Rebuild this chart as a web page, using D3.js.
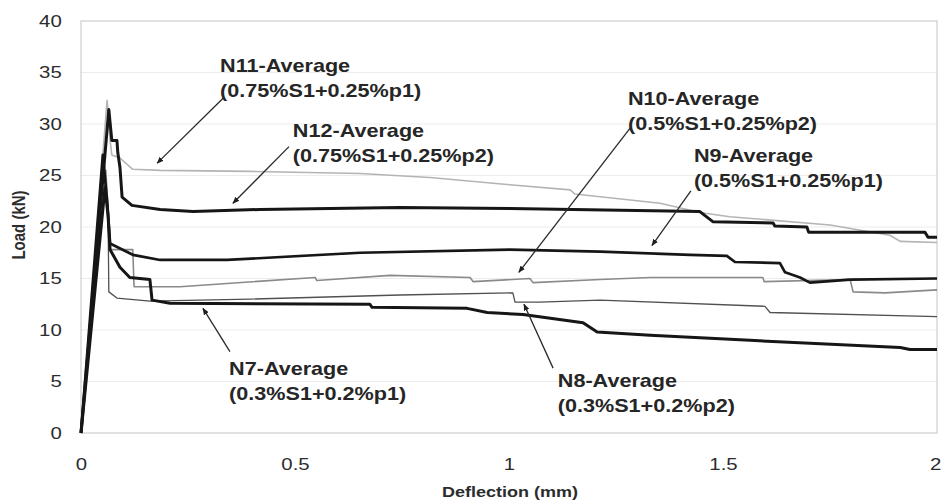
<!DOCTYPE html>
<html>
<head>
<meta charset="utf-8">
<script src="https://cdn.jsdelivr.net/npm/d3@7"></script>
<style>
  body { margin: 0; background: #fff; }
  svg { display: block; font-family: "Liberation Sans", Arial, sans-serif; }
</style>
</head>
<body>
<div id="chart"></div>
<script>
// data: [deflection (mm), load (kN)]
var n7 = [[0,0],[0.056,23.8],[0.063,21.2],[0.068,17.8],[0.091,16.1],[0.114,15.1],[0.161,14.9],[0.166,12.9],[0.208,12.6],
          [0.675,12.5],[0.68,12.2],[0.902,12.1],[0.949,11.7],[1.033,11.5],[1.173,10.7],[1.206,9.8],[1.33,9.5],[1.563,9.0],
          [1.914,8.3],[1.937,8.1],[2.0,8.1]];
var n8 = [[0,0],[0.054,23.1],[0.063,22.1],[0.065,13.7],[0.084,13.1],[0.161,12.8],[0.395,13.0],[0.745,13.4],[1.009,13.6],
          [1.014,12.7],[1.072,12.7],[1.213,12.9],[1.598,12.3],[1.61,11.7],[2.0,11.3]];
var n9 = [[0,0],[0.051,27.0],[0.061,22.6],[0.068,18.4],[0.121,17.3],[0.185,16.8],[0.341,16.8],[0.652,17.5],[1.002,17.8],
          [1.213,17.6],[1.423,17.3],[1.509,17.2],[1.528,16.6],[1.633,16.5],[1.645,15.6],[1.68,15.1],[1.703,14.6],
          [1.797,14.9],[2.0,15.0]];
var n10 = [[0,0],[0.058,25.5],[0.068,17.8],[0.121,17.8],[0.124,14.2],[0.231,14.2],[0.547,15.1],[0.551,14.8],[0.722,15.3],
           [0.909,15.1],[0.916,14.7],[1.049,15.0],[1.056,14.6],[1.213,14.9],[1.33,15.1],[1.516,15.1],[1.593,15.1],
           [1.596,14.7],[1.797,14.9],[1.804,13.7],[1.879,13.6],[2.0,13.9]];
var n11 = [[0,0],[0.061,32.3],[0.068,28.4],[0.072,27.0],[0.091,26.7],[0.121,25.6],[0.185,25.5],[0.395,25.4],[0.652,25.2],
           [0.815,24.8],[1.002,24.1],[1.143,23.6],[1.154,23.2],[1.353,22.3],[1.446,21.4],[1.516,21.0],[1.75,20.2],
           [1.89,19.2],[1.914,18.6],[2.0,18.5]];
var n12 = [[0,0],[0.065,31.4],[0.072,28.4],[0.084,28.4],[0.086,27.2],[0.091,25.8],[0.096,22.9],[0.119,22.1],[0.185,21.7],
           [0.262,21.5],[0.418,21.7],[0.745,21.9],[1.002,21.8],[1.446,21.5],[1.458,21.1],[1.477,20.5],[1.617,20.4],
           [1.621,20.1],[1.696,20.0],[1.70,19.5],[1.972,19.5],[1.979,19.0],[2.0,19.0]];

var seriesNames = ['N11', 'N10', 'N8', 'N9', 'N7', 'N12'];
var seriesData = [n11, n10, n8, n9, n7, n12];
var labelTitles = ['N11-Average', 'N10-Average', 'N8-Average', 'N9-Average', 'N7-Average', 'N12-Average'];
var labelMixes = ['(0.75%S1+0.25%p1)', '(0.5%S1+0.25%p2)', '(0.3%S1+0.2%p2)', '(0.5%S1+0.25%p1)', '(0.3%S1+0.2%p1)', '(0.75%S1+0.25%p2)'];

var xTicks = [0, 0.5, 1, 1.5, 2];
var xTickLabels = ['0', '0.5', '1', '1.5', '2'];
var yTicks = [0, 5, 10, 15, 20, 25, 30, 35, 40];

// layout
var W = 946, H = 502;
var stretch = 1.2; // the picture's text is wide
var lineStyle = {
  N11: { color: '#b4b4b4', width: 1.6 },
  N10: { color: '#8a8a8a', width: 1.6 },
  N8:  { color: '#505050', width: 1.3 },
  N9:  { color: '#161616', width: 2.7 },
  N7:  { color: '#161616', width: 3 },
  N12: { color: '#161616', width: 3 }
};
// label anchor, arrow start and arrow tip, in data units
var notes = {
  N11: { tx: 0.325, ty: 35.05, ax: 0.332, ay: 32.5, bx: 0.178, by: 26.2 },
  N12: { tx: 0.495, ty: 28.7,  ax: 0.486, ay: 27.8, bx: 0.355, by: 22.3 },
  N10: { tx: 1.278, ty: 31.8,  ax: 1.283, ay: 29.6, bx: 1.023, by: 15.6 },
  N9:  { tx: 1.432, ty: 26.3,  ax: 1.425, ay: 23.5, bx: 1.334, by: 18.2 },
  N7:  { tx: 0.346, ty: 5.6,   ax: 0.348, ay: 7.9,  bx: 0.285, by: 12.1 },
  N8:  { tx: 1.114, ty: 4.5,   ax: 1.103, ay: 6.3,  bx: 1.035, by: 12.5 }
};

var svg = d3.select('#chart').append('svg')
    .attr('width', W)
    .attr('height', H);

var x = d3.scaleLinear().domain([0, 2]).range([81, 937]);
var y = d3.scaleLinear().domain([0, 40]).range([433, 21]);

// grid + frame
svg.append('g').selectAll('line')
    .data(yTicks.slice(1, -1))
    .enter().append('line')
    .attr('x1', x(0)).attr('x2', x(2))
    .attr('y1', function (d) { return y(d); })
    .attr('y2', function (d) { return y(d); })
    .attr('stroke', '#ececec');

svg.append('rect')
    .attr('x', x(0)).attr('y', y(40))
    .attr('width', x(2) - x(0)).attr('height', y(0) - y(40))
    .attr('fill', 'none')
    .attr('stroke', '#c4c4c4');

// axes
var xAxis = svg.append('g')
    .attr('transform', 'translate(0,' + y(0) + ')')
    .call(d3.axisBottom(x).tickValues(xTicks).tickSize(0).tickPadding(25)
      .tickFormat(function (d, i) { return xTickLabels[i]; }));
var yAxis = svg.append('g')
    .attr('transform', 'translate(' + x(0) + ',0)')
    .call(d3.axisLeft(y).tickValues(yTicks).tickSize(0).tickPadding(16));

[xAxis, yAxis].forEach(function (ax) {
  ax.select('.domain').remove();
  ax.selectAll('text')
      .attr('font-size', 17)
      .attr('font-family', '"Liberation Sans", Arial, sans-serif')
      .attr('fill', '#2c2c2c')
      .attr('transform', 'scale(' + stretch + ',1)');
});
// last x label sits on the right edge, nudge it in a bit
xAxis.selectAll('.tick').filter(function (d) { return d === 2; })
    .select('text').attr('x', -1.5);

svg.append('text')
    .attr('transform', 'translate(' + 510 + ',' + 497 + ') scale(' + stretch + ',1)')
    .attr('text-anchor', 'middle')
    .attr('font-size', 15)
    .attr('font-weight', 'bold')
    .attr('fill', '#2c2c2c')
    .text('Deflection (mm)');

svg.append('text')
    .attr('transform', 'translate(' + 25 + ',' + 225 + ') rotate(-90) scale(1,' + stretch + ')')
    .attr('text-anchor', 'middle')
    .attr('font-size', 15)
    .attr('font-weight', 'bold')
    .attr('fill', '#2c2c2c')
    .text('Load (kN)');

// curves
var line = d3.line()
    .x(function (d) { return x(d[0]); })
    .y(function (d) { return y(d[1]); });

svg.append('g').selectAll('path')
    .data(seriesNames)
    .enter().append('path')
    .attr('d', function (d, i) { return line(seriesData[i]); })
    .attr('fill', 'none')
    .attr('stroke', function (d) { return lineStyle[d].color; })
    .attr('stroke-width', function (d) { return lineStyle[d].width; })
    .attr('stroke-linejoin', 'round');

// arrows
svg.append('defs').append('marker')
    .attr('id', 'head')
    .attr('viewBox', '0 0 10 10')
    .attr('refX', 9).attr('refY', 5)
    .attr('markerWidth', 7).attr('markerHeight', 7)
    .attr('markerUnits', 'userSpaceOnUse')
    .attr('orient', 'auto')
    .append('path')
    .attr('d', 'M0,1L10,5L0,9Z')
    .attr('fill', '#1e1e1e');

svg.append('g').selectAll('line')
    .data(seriesNames)
    .enter().append('line')
    .attr('x1', function (d) { return x(notes[d].ax); })
    .attr('y1', function (d) { return y(notes[d].ay); })
    .attr('x2', function (d) { return x(notes[d].bx); })
    .attr('y2', function (d) { return y(notes[d].by); })
    .attr('stroke', '#2a2a2a')
    .attr('stroke-width', 1.3)
    .attr('marker-end', 'url(#head)');

// labels
var label = svg.append('g').selectAll('text')
    .data(seriesNames)
    .enter().append('text')
    .attr('transform', function (d) {
      return 'translate(' + x(notes[d].tx) + ',' + y(notes[d].ty) + ') scale(' + stretch + ',1)';
    })
    .attr('font-size', 18)
    .attr('font-weight', 'bold')
    .attr('fill', '#262626');

label.append('tspan')
    .attr('x', 0).attr('y', 0)
    .text(function (d, i) { return labelTitles[i]; });
label.append('tspan')
    .attr('x', 0).attr('y', 25)
    .text(function (d, i) { return labelMixes[i]; });
</script>
</body>
</html>
